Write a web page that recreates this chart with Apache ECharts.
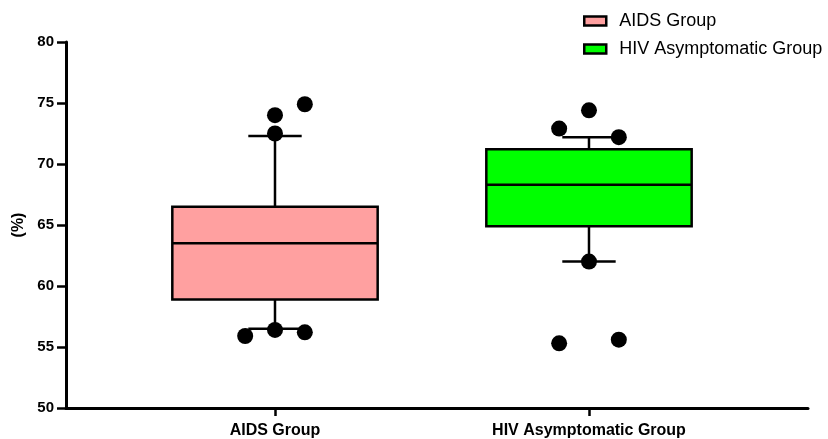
<!DOCTYPE html>
<html><head><meta charset="utf-8">
<script src="https://cdn.jsdelivr.net/npm/echarts@6/dist/echarts.min.js"></script>
<style>html,body{margin:0;padding:0;background:#fff}#c{width:828px;height:439px}</style>
</head><body><div id="c"></div>
<script>
const categories = ['AIDS Group', 'HIV Asymptomatic Group'];
// [min whisker, Q1, median, Q3, max whisker]
const aidsBox = [56.5, 58.9, 63.5, 66.5, 72.3];
const hivBox = [62.0, 64.9, 68.3, 71.2, 72.2];
// individual points: [jitter (-1 left, 0 centre, 1 right), value]
const aidsPoints = [[1, 74.9], [0, 74.0], [0, 72.5], [-1, 55.9], [0, 56.4], [1, 56.2]];
const hivPoints = [[0, 74.4], [-1, 72.9], [1, 72.2], [0, 62.0], [-1, 55.3], [1, 55.6]];
const yTicks = [50, 55, 60, 65, 70, 75, 80];

const FONT = 'Liberation Sans, Arial, sans-serif';
const JIT = 0.095;
function boxItem(idx, b) { return [idx + 1].concat(b); }
function pts(idx, arr) { return arr.map(p => [idx + 1 + p[0] * JIT, p[1]]); }

function renderBox(params, api) {
  const x = api.value(0);
  const unit = api.size([1, 0])[0];
  const hw = unit * 0.327, cw = unit * 0.085;
  const vals = [1,2,3,4,5].map(i => api.value(i));
  const p = v => api.coord([x, v]);
  const cx = p(vals[0])[0];
  const yMin = p(vals[0])[1], yQ1 = p(vals[1])[1], yMed = p(vals[2])[1], yQ3 = p(vals[3])[1], yMax = p(vals[4])[1];
  const ls = { stroke: '#000', lineWidth: 2.5 };
  return { type: 'group', children: [
    { type: 'line', shape: { x1: cx, y1: yQ3, x2: cx, y2: yMax }, style: ls },
    { type: 'line', shape: { x1: cx - cw, y1: yMax, x2: cx + cw, y2: yMax }, style: ls },
    { type: 'line', shape: { x1: cx, y1: yQ1, x2: cx, y2: yMin }, style: ls },
    { type: 'line', shape: { x1: cx - cw, y1: yMin, x2: cx + cw, y2: yMin }, style: ls },
    { type: 'rect', shape: { x: cx - hw, y: yQ3, width: 2 * hw, height: yQ1 - yQ3 },
      style: { fill: api.visual('color'), stroke: '#000', lineWidth: 2.5 } },
    { type: 'line', shape: { x1: cx - hw, y1: yMed, x2: cx + hw, y2: yMed }, style: ls }
  ]};
}

const chart = echarts.init(document.getElementById('c'));
chart.setOption({
  animation: false,
  textStyle: { fontFamily: FONT },
  grid: { left: 66, right: 20, top: 42, bottom: 31 },
  legend: {
    orient: 'vertical', left: 583, top: 12, itemGap: 10, padding: 0,
    itemWidth: 22, itemHeight: 9, icon: 'rect',
    itemStyle: { borderColor: '#000', borderWidth: 2.5 },
    textStyle: { fontSize: 18, color: '#000', fontFamily: FONT, padding: [0, 0, 0, 8] },
    data: categories
  },
  xAxis: {
    type: 'value', min: 0.3344, max: 2.6975,
    splitLine: { show: false },
    axisLine: { lineStyle: { color: '#000', width: 3 } },
    axisTick: { customValues: [1, 2], length: 8, lineStyle: { color: '#000', width: 2.5 } },
    axisLabel: { customValues: [1, 2], formatter: v => categories[Math.round(v) - 1] || '',
      color: '#000', fontWeight: 'bold', fontSize: 16, margin: 15, fontFamily: FONT }
  },
  yAxis: {
    type: 'value', min: 50, max: 80, interval: 5,
    name: '(%)', nameLocation: 'middle', nameGap: 38, nameRotate: 90,
    nameTextStyle: { color: '#000', fontWeight: 'bold', fontSize: 16, fontFamily: FONT },
    splitLine: { show: false },
    axisLine: { show: true, lineStyle: { color: '#000', width: 3 } },
    axisTick: { show: true, length: 9, lineStyle: { color: '#000', width: 2.5 } },
    axisLabel: { color: '#000', fontWeight: 'bold', fontSize: 15, margin: 12, fontFamily: FONT,
      formatter: v => yTicks.includes(v) ? String(v) : '' }
  },
  series: [
    { name: categories[0], type: 'custom', renderItem: renderBox, itemStyle: { color: '#FFA0A0' },
      encode: { x: 0, y: [1,2,3,4,5] }, data: [boxItem(0, aidsBox)], z: 2 },
    { name: categories[1], type: 'custom', renderItem: renderBox, itemStyle: { color: '#00FF00' },
      encode: { x: 0, y: [1,2,3,4,5] }, data: [boxItem(1, hivBox)], z: 2 },
    { type: 'scatter', symbolSize: 16, itemStyle: { color: '#000', opacity: 1 }, data: pts(0, aidsPoints).concat(pts(1, hivPoints)), z: 5 }
  ]
});
</script></body></html>
